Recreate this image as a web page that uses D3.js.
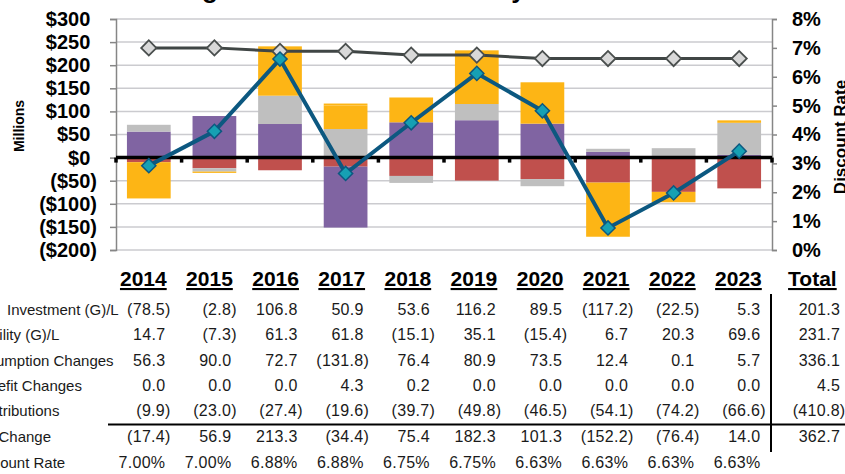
<!DOCTYPE html>
<html>
<head>
<meta charset="utf-8">
<script src="https://cdn.jsdelivr.net/npm/d3@7"></script>
<style>
body { margin: 0; background: #fff; }
text { font-family: "Liberation Sans", Arial, sans-serif; }
</style>
</head>
<body>
<script>
let years = [2014, 2015, 2016, 2017, 2018, 2019, 2020, 2021, 2022, 2023];
let investment = [-78.5, -2.8, 106.8, 50.9, 53.6, 116.2, 89.5, -117.2, -22.5, 5.3];
let liability = [14.7, -7.3, 61.3, 61.8, -15.1, 35.1, -15.4, 6.7, 20.3, 69.6];
let assumption = [56.3, 90.0, 72.7, -131.8, 76.4, 80.9, 73.5, 12.4, 0.1, 5.7];
let benefit = [0.0, 0.0, 0.0, 4.3, 0.2, 0.0, 0.0, 0.0, 0.0, 0.0];
let contributions = [-9.9, -23.0, -27.4, -19.6, -39.7, -49.8, -46.5, -54.1, -74.2, -66.6];
let netChange = [-17.4, 56.9, 213.3, -34.4, 75.4, 182.3, 101.3, -152.2, -76.4, 14.0];
let discountRate = [7.00, 7.00, 6.88, 6.88, 6.75, 6.75, 6.63, 6.63, 6.63, 6.63];
let totals = [201.3, 231.7, 336.1, 4.5, -410.8, 362.7];
let rowLabels = ["Investment (G)/L", "Liability (G)/L", "Assumption Changes",
  "Benefit Changes", "Contributions", "Net Change", "Discount Rate"];
let leftTicks = [-200, -150, -100, -50, 0, 50, 100, 150, 200, 250, 300];
let rightTicks = [0, 1, 2, 3, 4, 5, 6, 7, 8];

let colors = {
  contributions: "#C0504D",
  assumption: "#8064A2",
  liability: "#BFBFBF",
  investment: "#FDB515",
  benefit: "#FDB515"
};

let svg = d3.select("body").append("svg")
  .attr("width", 845).attr("height", 474);

let x = d3.scaleBand().domain(years).range([116, 772])
  .paddingInner(1 / 3).paddingOuter(1 / 6);
let y = d3.scaleLinear().domain([-200, 300]).range([250, 19]);
let yR = d3.scaleLinear().domain([0, 8]).range([250, 19]);
let cx = d => x(d) + x.bandwidth() / 2;

// title (mostly cut off at the top)
svg.append("text")
  .attr("x", 137).attr("y", -2)
  .attr("font-size", 26).attr("font-weight", "bold")
  .text("Change in Net Pension Liability");

// gridlines
svg.append("g").selectAll("line").data(leftTicks).enter().append("line")
  .attr("x1", 116).attr("x2", 772)
  .attr("y1", d => y(d)).attr("y2", d => y(d))
  .attr("stroke", "#CBCBCF").attr("stroke-width", 1.5);

// stacked bars
let rows = years.map((yr, i) => ({
  year: yr,
  contributions: contributions[i],
  assumption: assumption[i],
  liability: liability[i],
  investment: investment[i],
  benefit: benefit[i]
}));
let keys = ["contributions", "assumption", "liability", "investment", "benefit"];
let stacked = d3.stack().keys(keys).offset(d3.stackOffsetDiverging)(rows);

svg.append("g").selectAll("g").data(stacked).enter().append("g")
  .attr("fill", d => colors[d.key])
  .selectAll("rect").data(d => d).enter().append("rect")
  .attr("x", d => x(d.data.year))
  .attr("width", x.bandwidth())
  .attr("y", d => y(Math.max(d[0], d[1])))
  .attr("height", d => Math.abs(y(d[0]) - y(d[1])));

// left axis
let fmtMoney = d => d < 0 ? "($" + (-d) + ")" : "$" + d;
let leftAxis = svg.append("g").attr("transform", "translate(116,0)")
  .call(d3.axisLeft(y).tickValues(leftTicks).tickSize(6).tickPadding(13).tickFormat(fmtMoney));
leftAxis.select(".domain").attr("stroke", "#868686").attr("stroke-width", 1.5);
leftAxis.selectAll(".tick line").attr("stroke", "#868686").attr("stroke-width", 1.5);
leftAxis.selectAll(".tick text")
  .attr("font-size", 20).attr("font-weight", "bold").attr("fill", "#000")
  .attr("font-family", "Liberation Sans, Arial, sans-serif")
  .attr("dx", d => d < 0 ? 0 : -6.7);

// right axis
let rightAxis = svg.append("g").attr("transform", "translate(772,0)")
  .call(d3.axisRight(yR).tickValues(rightTicks).tickSize(5).tickPadding(15).tickFormat(d => d + "%"));
rightAxis.select(".domain").attr("stroke", "#868686").attr("stroke-width", 1.5);
rightAxis.selectAll(".tick line").attr("stroke", "#868686").attr("stroke-width", 1.5);
rightAxis.selectAll(".tick text")
  .attr("font-size", 20).attr("font-weight", "bold").attr("fill", "#000")
  .attr("font-family", "Liberation Sans, Arial, sans-serif");

// axis titles
svg.append("text")
  .attr("transform", "translate(24,126) rotate(-90)")
  .attr("text-anchor", "middle").attr("font-size", 14).attr("font-weight", "bold")
  .text("Millions");
svg.append("text")
  .attr("transform", "translate(846,137) rotate(-90)")
  .attr("text-anchor", "middle").attr("font-size", 17).attr("font-weight", "bold")
  .text("Discount Rate");

// zero line with category ticks
svg.append("line")
  .attr("x1", 116).attr("x2", 772).attr("y1", y(0)).attr("y2", y(0))
  .attr("stroke", "#000").attr("stroke-width", 3.5);
let boundaries = years.map(d => x(d) - x.step() * x.paddingInner() / 2).concat([772]);
svg.append("g").selectAll("line").data(boundaries).enter().append("line")
  .attr("x1", d => d).attr("x2", d => d)
  .attr("y1", y(0)).attr("y2", y(0) + 5)
  .attr("stroke", "#000").attr("stroke-width", 3.5);

let diamond = size => d3.symbol(d3.symbolSquare, size)();

// discount rate line (right axis)
svg.append("path")
  .datum(discountRate)
  .attr("fill", "none").attr("stroke", "#404645").attr("stroke-width", 3)
  .attr("d", d3.line().x((d, i) => cx(years[i])).y(d => yR(d)));
svg.append("g").selectAll("path").data(discountRate).enter().append("path")
  .attr("d", diamond(115))
  .attr("transform", (d, i) => "translate(" + cx(years[i]) + "," + yR(d) + ") rotate(45)")
  .attr("fill", "#D9D9D9").attr("stroke", "#4A4F4E").attr("stroke-width", 1.8);

// net change line (left axis)
svg.append("path")
  .datum(netChange)
  .attr("fill", "none").attr("stroke", "#0C5880").attr("stroke-width", 4)
  .attr("d", d3.line().x((d, i) => cx(years[i])).y(d => y(d)));
svg.append("g").selectAll("path").data(netChange).enter().append("path")
  .attr("d", diamond(100))
  .attr("transform", (d, i) => "translate(" + cx(years[i]) + "," + y(d) + ") rotate(45)")
  .attr("fill", "#16A0B3").attr("stroke", "#0C5880").attr("stroke-width", 1.5);

// data table
let tx = d3.scalePoint().domain(years).range([170.7, 765.8]);
let totalX = 845.5;
let parenW = 5.3;
let rowY = [315, 340, 365.5, 390.5, 416, 441.5, 468];
let fmt1 = d3.format(".1f");
let fmtNum = v => v < 0 ? "(" + fmt1(-v) + ")" : fmt1(v);

let header = svg.append("g");
header.selectAll("text").data(years).enter().append("text")
  .attr("x", d => tx(d) - 4).attr("y", 286)
  .attr("text-anchor", "end").attr("font-size", 21).attr("font-weight", "bold")
  .attr("text-decoration", "underline")
  .text(d => d);
header.append("text")
  .attr("x", 836.7).attr("y", 286)
  .attr("text-anchor", "end").attr("font-size", 21).attr("font-weight", "bold")
  .attr("text-decoration", "underline")
  .text("Total");

// row labels, cut off by the left edge as in the source
svg.append("g").attr("font-size", 15).attr("fill", "#1a1a1a")
  .selectAll("text").data(rowLabels).enter().append("text")
  .attr("x", (d, i) => i === 0 ? 7 : -29)
  .attr("y", (d, i) => rowY[i])
  .text(d => d);

let tableRows = [investment, liability, assumption, benefit, contributions, netChange];
let body = svg.append("g").attr("font-size", 16).attr("fill", "#1a1a1a")
  .attr("letter-spacing", 0.3);

tableRows.forEach((vals, r) => {
  body.append("g").selectAll("text").data(vals).enter().append("text")
    .attr("x", (d, i) => tx(years[i]) - (d < 0 ? 0 : parenW))
    .attr("y", rowY[r])
    .attr("text-anchor", "end")
    .text(d => fmtNum(d));
  body.append("text")
    .attr("x", totalX - (totals[r] < 0 ? 0 : parenW))
    .attr("y", rowY[r])
    .attr("text-anchor", "end")
    .text(fmtNum(totals[r]));
});

body.append("g").selectAll("text").data(discountRate).enter().append("text")
  .attr("x", (d, i) => tx(years[i]) - parenW)
  .attr("y", rowY[6])
  .attr("text-anchor", "end")
  .text(d => d.toFixed(2) + "%");

// table rules
svg.append("line")
  .attr("x1", 108).attr("x2", 845).attr("y1", 424.5).attr("y2", 424.5)
  .attr("stroke", "#000").attr("stroke-width", 2);
svg.append("line")
  .attr("x1", 771).attr("x2", 771).attr("y1", 294).attr("y2", 452)
  .attr("stroke", "#000").attr("stroke-width", 2);
</script>
</body>
</html>
